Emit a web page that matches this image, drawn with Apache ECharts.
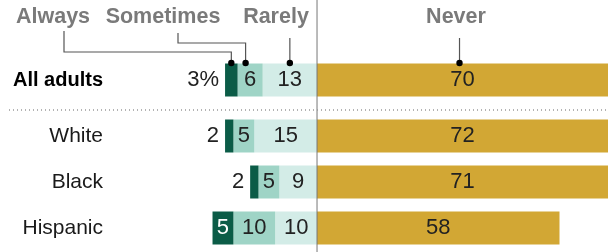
<!DOCTYPE html>
<html>
<head>
<meta charset="utf-8">
<script src="https://cdn.jsdelivr.net/npm/echarts@6/dist/echarts.min.js"></script>
<style>
  html, body { margin: 0; padding: 0; background: #fff; }
  #chart { width: 608px; height: 252px; }
</style>
</head>
<body>
<div id="chart"></div>
<script>
// rows: first one is the total, then the subgroups
var categories = ['All adults', 'White', 'Black', 'Hispanic'];
var always    = [3, 2, 2, 5];
var sometimes = [6, 5, 5, 10];
var rarely    = [13, 15, 9, 10];
var never     = [70, 72, 71, 58];
var headers   = ['Always', 'Sometimes', 'Rarely', 'Never'];
var colors    = ['#0b5c47', '#9fd4c6', '#d3ece7', '#d2a734'];

var FONT = 'Liberation Sans, Arial, sans-serif';
var myChart = echarts.init(document.getElementById('chart'));

function absFmt(withPct) {
    return function (p) {
        var v = Math.abs(p.value);
        return (withPct ? v + '%' : '' + v);
    };
}

function labelStyle(extra) {
    var s = { show: true, position: 'inside', fontFamily: FONT, fontSize: 22, color: '#222' };
    for (var k in extra) { s[k] = extra[k]; }
    return s;
}

// g = grid index, rows [from, to)
function makeSeries(g, from, to) {
    var list = [];
    var neg = function (arr) { return arr.slice(from, to).map(function (v) { return -v; }); };
    list.push({
        name: 'Rarely', type: 'bar', stack: 's' + g, xAxisIndex: g, yAxisIndex: g,
        barWidth: 33, data: neg(rarely), itemStyle: { color: colors[2] },
        label: labelStyle({ formatter: absFmt(false) })
    });
    list.push({
        name: 'Sometimes', type: 'bar', stack: 's' + g, xAxisIndex: g, yAxisIndex: g,
        barWidth: 33, data: neg(sometimes), itemStyle: { color: colors[1] },
        label: labelStyle({ formatter: absFmt(false) })
    });
    var alwaysData = always.slice(from, to).map(function (v) {
        if (v >= 5) {
            return { value: -v, label: { position: 'inside', color: '#fff' } };
        }
        return { value: -v };
    });
    list.push({
        name: 'Always', type: 'bar', stack: 's' + g, xAxisIndex: g, yAxisIndex: g,
        barWidth: 33, data: alwaysData, itemStyle: { color: colors[0] },
        label: labelStyle({ position: 'left', distance: 6, formatter: absFmt(g === 0) })
    });
    list.push({
        name: 'Never', type: 'bar', stack: 's' + g, xAxisIndex: g, yAxisIndex: g,
        barWidth: 33, data: never.slice(from, to), itemStyle: { color: colors[3] },
        clip: true,
        label: labelStyle({ formatter: absFmt(false) })
    });
    return list;
}

var xAxisBase = function (g) {
    return { type: 'value', gridIndex: g, min: -50, max: 69.6, show: false, splitLine: { show: false } };
};
var yAxisBase = function (g, data, bold) {
    return {
        type: 'category', gridIndex: g, data: data, inverse: true,
        axisLine: { show: false }, axisTick: { show: false },
        axisLabel: {
            margin: 5, fontFamily: FONT, fontSize: bold ? 20 : 21,
            fontWeight: bold ? 'bold' : 'normal', color: bold ? '#000' : '#1a1a1a'
        }
    };
};

option = {
    animation: false,
    grid: [
        { left: 108, right: 0, top: 57, height: 46 },
        { left: 108, right: 0, top: 113, height: 138 }
    ],
    xAxis: [xAxisBase(0), xAxisBase(1)],
    yAxis: [yAxisBase(0, categories.slice(0, 1), true), yAxisBase(1, categories.slice(1), false)],
    series: makeSeries(0, 0, 1).concat(makeSeries(1, 1, 4))
};
myChart.setOption(option);

// annotations: header labels with leader lines down to the first row
var zeroX = myChart.convertToPixel({ xAxisIndex: 0 }, 0);
var maxX = myChart.convertToPixel({ xAxisIndex: 0 }, 69.6);
var rowY = myChart.convertToPixel({ yAxisIndex: 0 }, categories[0]);
var dotY = rowY - 17;
var px = function (v) { return myChart.convertToPixel({ xAxisIndex: 0 }, v); };

var dotAlways = px(-(rarely[0] + sometimes[0] + always[0] / 2));
var dotSometimes = px(-(rarely[0] + sometimes[0])) + 8;
var dotRarely = px(-rarely[0] / 2);
var dotNever = (zeroX + maxX) / 2 - 3;

var lineStyle = { stroke: '#555', lineWidth: 1.2, fill: null };
var graphics = [
    { type: 'line', z: 10, shape: { x1: zeroX, y1: 0, x2: zeroX, y2: 252 }, style: { stroke: '#777', lineWidth: 1 } },
    { type: 'line', z: 10, shape: { x1: 9, y1: 110, x2: 608, y2: 110 }, style: { stroke: '#999', lineWidth: 1.5, lineDash: [1, 3] } },
    { type: 'polyline', z: 10, shape: { points: [[64, 31], [64, 52], [dotAlways, 52], [dotAlways, dotY]] }, style: lineStyle },
    { type: 'polyline', z: 10, shape: { points: [[178, 33], [178, 43], [dotSometimes, 43], [dotSometimes, dotY]] }, style: lineStyle },
    { type: 'line', z: 10, shape: { x1: dotRarely, y1: 38, x2: dotRarely, y2: dotY }, style: lineStyle },
    { type: 'line', z: 10, shape: { x1: dotNever, y1: 38, x2: dotNever, y2: dotY }, style: lineStyle }
];
[dotAlways, dotSometimes, dotRarely, dotNever].forEach(function (x) {
    graphics.push({ type: 'circle', z: 11, shape: { cx: x, cy: dotY, r: 3.2 }, style: { fill: '#000' } });
});
var headerX = [53, 163, 276, 456];
headers.forEach(function (h, i) {
    graphics.push({
        type: 'text', z: 10, x: headerX[i], y: 17,
        style: { text: h, fontFamily: FONT, fontSize: 21.5, fontWeight: 'bold', fill: '#7a7a7a', align: 'center', verticalAlign: 'middle' }
    });
});
myChart.setOption({ graphic: graphics });
</script>
</body>
</html>
